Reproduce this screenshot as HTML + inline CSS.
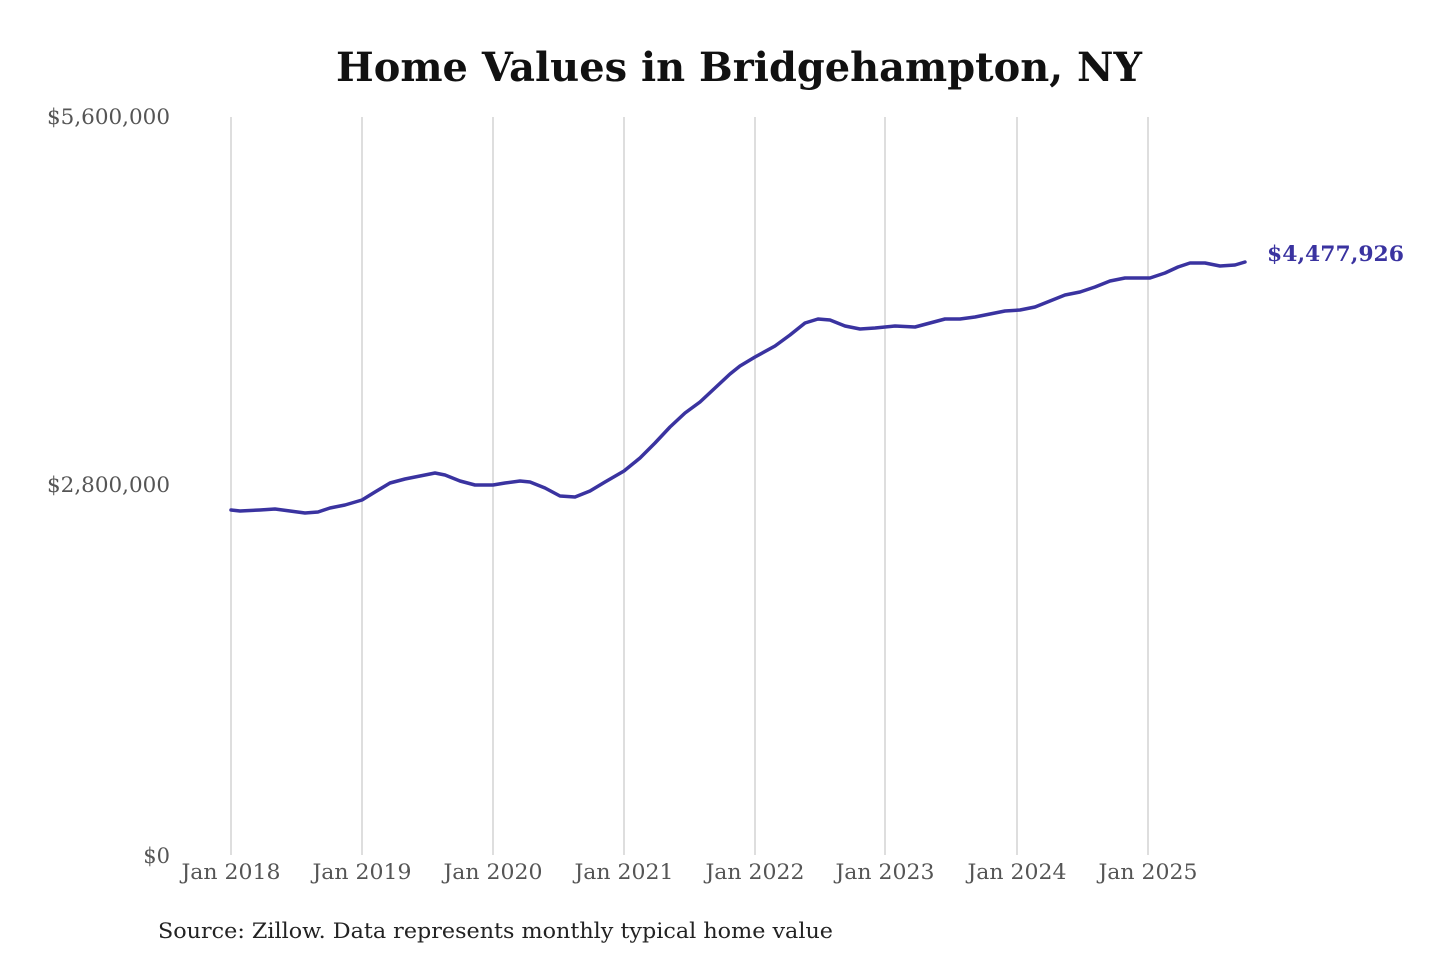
<!DOCTYPE html>
<html><head><meta charset="utf-8"><style>
html,body{margin:0;padding:0;background:#fff;}
svg{display:block;}
</style></head><body>
<svg width="1440" height="960" viewBox="0 0 1440 960" xmlns="http://www.w3.org/2000/svg">
<rect width="1440" height="960" fill="#fff"/>
<text x="336" y="81" textLength="806" lengthAdjust="spacingAndGlyphs" font-family="DejaVu Serif, Liberation Serif, serif" font-weight="bold" font-size="40" fill="#111">Home Values in Bridgehampton, NY</text>
<g stroke="#c8c8c8" stroke-width="1.2">
<line x1="231" y1="117" x2="231" y2="855"/>
<line x1="362" y1="117" x2="362" y2="855"/>
<line x1="493" y1="117" x2="493" y2="855"/>
<line x1="624" y1="117" x2="624" y2="855"/>
<line x1="755" y1="117" x2="755" y2="855"/>
<line x1="885" y1="117" x2="885" y2="855"/>
<line x1="1017" y1="117" x2="1017" y2="855"/>
<line x1="1148" y1="117" x2="1148" y2="855"/>
</g>
<g font-family="DejaVu Serif, Liberation Serif, serif" font-size="21" fill="#555">
<text x="47" y="124" textLength="123" lengthAdjust="spacingAndGlyphs">$5,600,000</text>
<text x="47" y="492" textLength="123" lengthAdjust="spacingAndGlyphs">$2,800,000</text>
<text x="170" y="863" text-anchor="end">$0</text>
<g text-anchor="middle">
<text x="231" y="879" textLength="99" lengthAdjust="spacingAndGlyphs">Jan 2018</text>
<text x="362" y="879" textLength="99" lengthAdjust="spacingAndGlyphs">Jan 2019</text>
<text x="493" y="879" textLength="99" lengthAdjust="spacingAndGlyphs">Jan 2020</text>
<text x="624" y="879" textLength="99" lengthAdjust="spacingAndGlyphs">Jan 2021</text>
<text x="755" y="879" textLength="99" lengthAdjust="spacingAndGlyphs">Jan 2022</text>
<text x="885" y="879" textLength="99" lengthAdjust="spacingAndGlyphs">Jan 2023</text>
<text x="1017" y="879" textLength="99" lengthAdjust="spacingAndGlyphs">Jan 2024</text>
<text x="1148" y="879" textLength="99" lengthAdjust="spacingAndGlyphs">Jan 2025</text>
</g>
</g>
<polyline fill="none" stroke="#3a33a0" stroke-width="3.5" stroke-linejoin="round" stroke-linecap="round"
points="231,510 240,511 260,510 275,509 290,511 305,513 318,512 330,508 345,505 362,500 375,492 390,483 405,479 420,476 435,473 445,475 460,481 475,485 493,485 505,483 520,481 530,482 545,488 560,496 575,497 590,491 605,482 624,471 640,458 655,443 670,427 685,413 700,402 715,388 730,374 740,366 755,357 775,346 790,335 805,323 818,319 830,320 845,326 860,329 875,328 895,326 915,327 930,323 945,319 960,319 975,317 990,314 1005,311 1020,310 1035,307 1050,301 1065,295 1080,292 1095,287 1110,281 1125,278 1140,278 1150,278 1165,273 1178,267 1190,263 1205,263 1220,266 1235,265 1245,262"/>
<text x="1267" y="261" textLength="137" lengthAdjust="spacingAndGlyphs" font-family="DejaVu Serif, Liberation Serif, serif" font-weight="bold" font-size="21" fill="#3a33a0">$4,477,926</text>
<text x="158" y="938" textLength="675" lengthAdjust="spacingAndGlyphs" font-family="DejaVu Serif, Liberation Serif, serif" font-size="21" fill="#222">Source: Zillow. Data represents monthly typical home value</text>
</svg>
</body></html>
